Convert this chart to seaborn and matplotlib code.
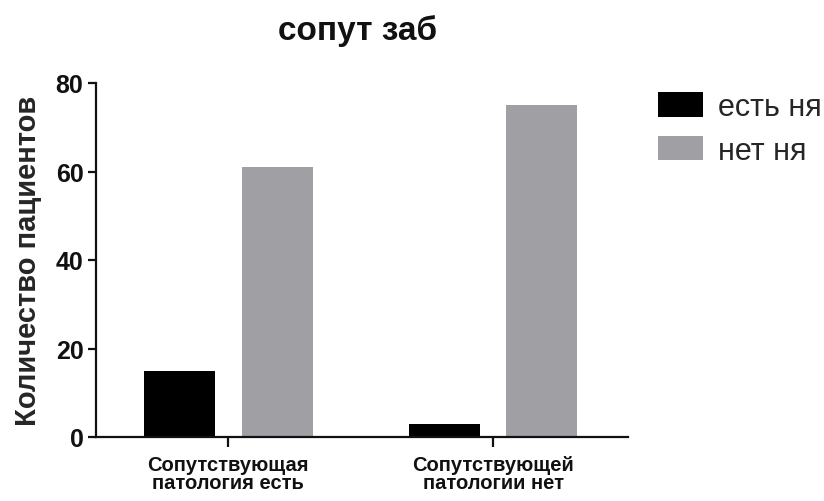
import matplotlib
matplotlib.use("Agg")
import matplotlib.pyplot as plt
import seaborn as sns
import pandas as pd

categories = ["Сопутствующая\nпатология есть", "Сопутствующей\nпатологии нет"]
series_names = ["есть ня", "нет ня"]
values_yes = [15, 3]
values_no = [61, 75]
y_ticks = [0, 20, 40, 60, 80]

df = pd.DataFrame({
    "cat": categories * 2,
    "group": [series_names[0]] * 2 + [series_names[1]] * 2,
    "count": values_yes + values_no,
})

sns.set_theme(style="ticks")
plt.rcParams["font.family"] = ["Liberation Sans", "DejaVu Sans"]

fig = plt.figure(figsize=(8.24, 5.02), dpi=100)
ax = fig.add_axes([96 / 824, 1 - 438 / 502, 532 / 824, 354 / 502])

sns.barplot(data=df, x="cat", y="count", hue="group",
            palette=["#000000", "#A09FA4"], saturation=1,
            width=0.74, gap=0.275, linewidth=0, ax=ax)

ax.set_xlim(-0.5, 1.51)
ax.set_ylim(0, 80)
ax.set_yticks(y_ticks)
sns.despine(ax=ax)
for s in ("left", "bottom"):
    ax.spines[s].set_linewidth(1.6)
    ax.spines[s].set_color("#111111")
ax.tick_params(axis="y", length=6, width=1.6, labelsize=18, pad=3, colors="#111111")
ax.tick_params(axis="x", length=7, width=1.6, labelsize=14.5, pad=6, colors="#111111")
for lbl in ax.get_yticklabels():
    lbl.set_fontweight("bold")
for lbl in ax.get_xticklabels():
    lbl.set_fontweight("bold")
    lbl.set_linespacing(0.95)

ax.set_xlabel("")
ax.set_ylabel("Количество пациентов", fontsize=21, fontweight="bold", labelpad=10)
fig.text(358 / 824, 1 - 31 / 502, "сопут заб", ha="center", va="center",
         fontsize=24, fontweight="bold", color="#111111")

handles, labels = ax.get_legend_handles_labels()
ax.get_legend().remove()
fig.legend(handles, labels, loc="upper left",
           bbox_to_anchor=(658 / 824, 1 - 93 / 502),
           frameon=False, fontsize=22, handlelength=1.47, handleheight=0.85,
           handletextpad=0.5, labelspacing=0.45, borderpad=0, borderaxespad=0)

fig.savefig("out.png", dpi=100, facecolor="white")
